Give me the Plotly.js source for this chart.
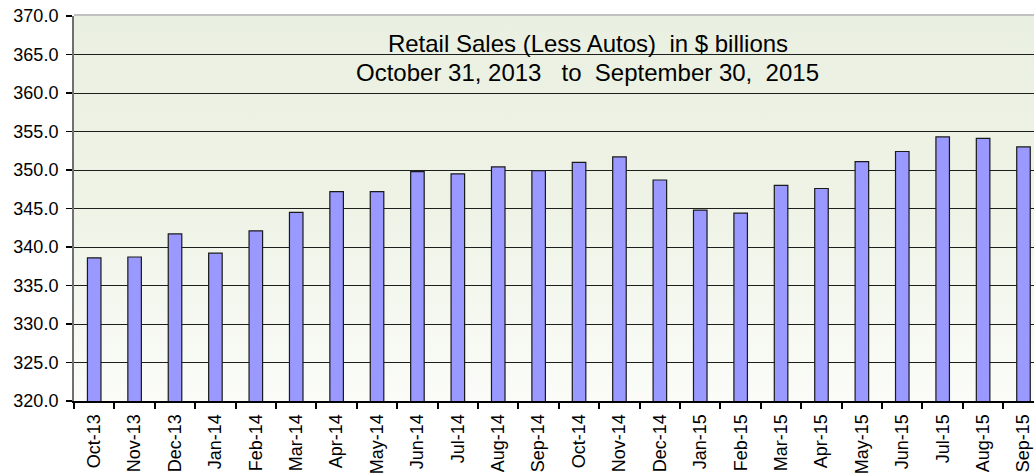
<!DOCTYPE html>
<html>
<head>
<meta charset="utf-8">
<script src="https://cdn.plot.ly/plotly-3.0.1.min.js"></script>
<style>
  html, body { margin: 0; padding: 0; background: #ffffff; overflow: hidden; }
  #wrap { position: relative; width: 1034px; height: 476px; }
  #bg { position: absolute; left: 74px; top: 14px; width: 960px; height: 387px;
        border-top: 2px solid #c0c0c0; box-sizing: border-box;
        background: linear-gradient(to bottom, #eaf0e1 0%, #eef3e6 50%, #fbfcf8 100%); }
  #chart { position: absolute; left: 0; top: 0; width: 1034px; height: 476px; }
</style>
</head>
<body>
<div id="wrap">
  <div id="bg"></div>
  <div id="chart"></div>
</div>
<script>
const months = ["Oct-13","Nov-13","Dec-13","Jan-14","Feb-14","Mar-14","Apr-14","May-14","Jun-14","Jul-14","Aug-14","Sep-14",
                "Oct-14","Nov-14","Dec-14","Jan-15","Feb-15","Mar-15","Apr-15","May-15","Jun-15","Jul-15","Aug-15","Sep-15"];
const salesLessAutos = [338.6, 338.7, 341.7, 339.2, 342.1, 344.5, 347.2, 347.2, 349.8, 349.5, 350.4, 349.9,
                        351.0, 351.7, 348.7, 344.8, 344.4, 348.0, 347.6, 351.1, 352.4, 354.3, 354.1, 353.0];
const yTickValues = [320, 325, 330, 335, 340, 345, 350, 355, 360, 365, 370];
const titleLine1 = "Retail Sales (Less Autos)\u00A0\u00A0in $ billions";
const titleLine2 = "October 31, 2013\u00A0\u00A0\u00A0to\u00A0\u00A0September 30,\u00A0\u00A02015";

const trace = {
  type: "bar",
  x: months,
  y: salesLessAutos,
  width: 0.335,
  marker: { color: "#9999ff", line: { color: "#1a1a1a", width: 1.2 } },
  hoverinfo: "skip"
};

const layout = {
  width: 1034,
  height: 476,
  margin: { l: 74, r: 0, t: 16, b: 75 },
  paper_bgcolor: "rgba(0,0,0,0)",
  plot_bgcolor: "rgba(0,0,0,0)",
  font: { family: "Liberation Sans, Arial, sans-serif", color: "#000000" },
  showlegend: false,
  bargap: 0.66,
  title: {
    text: titleLine1,
    font: { size: 24, color: "#000000", family: "Liberation Sans, Arial, sans-serif" },
    x: 0.5687, xanchor: "center", xref: "container",
    y: 0.9265, yanchor: "top", yref: "container"
  },
  annotations: [{
    text: titleLine2,
    showarrow: false,
    xref: "paper", yref: "paper",
    x: 0.5354, xanchor: "center",
    y: 0.854, yanchor: "middle",
    font: { size: 24, color: "#000000", family: "Liberation Sans, Arial, sans-serif" }
  }],
  xaxis: {
    type: "category",
    range: [-0.5, 23.26],
    tickson: "boundaries",
    ticks: "outside",
    ticklen: 6,
    tickwidth: 2,
    tickcolor: "#000000",
    tickangle: -90,
    tickfont: { size: 18, color: "#000000" },
    ticklabelstandoff: 4,
    showline: true,
    linecolor: "#000000",
    linewidth: 2,
    showgrid: false,
    zeroline: false,
    fixedrange: true
  },
  yaxis: {
    range: [320, 370],
    tickvals: yTickValues,
    ticktext: yTickValues.map(v => v.toFixed(1)),
    ticks: "outside",
    ticklen: 6,
    tickwidth: 1.5,
    tickcolor: "#000000",
    tickfont: { size: 18, color: "#000000" },
    ticklabelstandoff: 4,
    showline: true,
    linecolor: "#707070",
    linewidth: 2,
    showgrid: true,
    gridcolor: "#1e1e1e",
    gridwidth: 1,
    zeroline: false,
    fixedrange: true
  }
};

Plotly.newPlot("chart", [trace], layout, { staticPlot: true, displayModeBar: false });
</script>
</body>
</html>
